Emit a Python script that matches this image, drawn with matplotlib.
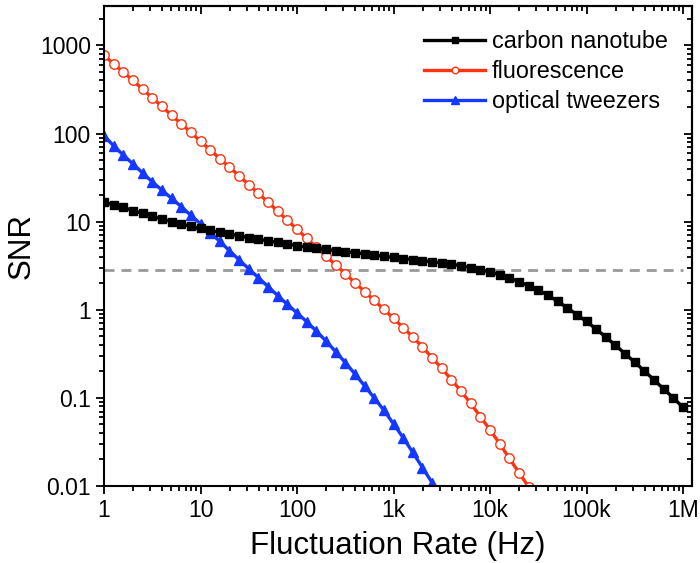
import numpy as np
import matplotlib
matplotlib.use("Agg")
import matplotlib.pyplot as plt
from matplotlib.ticker import FixedLocator, FixedFormatter, LogLocator, NullFormatter

plt.rcParams['font.family'] = ['Liberation Sans', 'DejaVu Sans']

# sampling grid: 10 points per decade, 1 Hz .. 1 MHz
freq = np.logspace(0, 6, 61)

# SNR, one value per marker
snr_cnt = [16.6, 15.5, 14.5, 13.3, 12.4, 11.5, 10.7, 10.0, 9.42, 8.85,
           8.39, 7.94, 7.57, 7.24, 6.92, 6.59, 6.31, 6.05, 5.82, 5.58,
           5.35, 5.14, 4.98, 4.83, 4.69, 4.56, 4.44, 4.31, 4.18, 4.04,
           3.92, 3.81, 3.71, 3.61, 3.51, 3.40, 3.28, 3.16, 3.01, 2.85,
           2.68, 2.49, 2.29, 2.09, 1.87, 1.67, 1.46, 1.25, 1.05, 0.883,
           0.736, 0.603, 0.489, 0.395, 0.317, 0.254, 0.202, 0.160, 0.126, 0.100,
           0.078]
snr_fluo = [769, 619, 498, 400, 319, 254, 203, 161, 129, 103,
            81.8, 65.2, 52.0, 41.4, 33.0, 26.3, 20.9, 16.6, 13.1, 10.4,
            8.17, 6.49, 5.13, 4.07, 3.24, 2.56, 2.03, 1.61, 1.28, 1.01,
            0.80, 0.627, 0.491, 0.378, 0.285, 0.216, 0.161, 0.119, 0.0865, 0.0614,
            0.0433, 0.0303, 0.0206, 0.0142, 0.00975]
snr_tweez = [94.4, 72.4, 56.9, 45.2, 35.7, 28.3, 22.8, 18.4, 14.8, 11.8,
             9.44, 7.53, 5.96, 4.68, 3.68, 2.92, 2.31, 1.83, 1.45, 1.15,
             0.920, 0.733, 0.573, 0.442, 0.335, 0.252, 0.187, 0.137, 0.100, 0.0724,
             0.0507, 0.0353, 0.0240, 0.0162, 0.0109, 0.0072]
threshold = 2.83

xticks = [1, 10, 100, 1e3, 1e4, 1e5, 1e6]
xticklabels = ["1", "10", "100", "1k", "10k", "100k", "1M"]
yticks = [0.01, 0.1, 1, 10, 100, 1000]
yticklabels = ["0.01", "0.1", "1", "10", "100", "1000"]

fig = plt.figure(figsize=(7, 5.63), dpi=100)
ax = fig.add_axes([0.1486, 0.1368, 0.84, 0.8525])

ax.plot([freq[0], freq[-1]], [threshold, threshold], color="#999999", lw=2,
        dashes=[3.6, 2.5], zorder=1)
ax.plot(freq, snr_cnt, color="black", lw=2.4, marker="s", ms=6.3,
        label="carbon nanotube", zorder=3)
ax.plot(freq[:len(snr_fluo)], snr_fluo, color="#ff3311", lw=2.4, marker="o", ms=6.8,
        mfc="white", mec="#ff3311", mew=1, label="fluorescence", zorder=2)
ax.plot(freq[:len(snr_tweez)], snr_tweez, color="#1438ff", lw=2.4, marker="^", ms=7.3,
        label="optical tweezers", zorder=2)

ax.set_xscale("log")
ax.set_yscale("log")
ax.set_xlim(1, 1.24e6)
ax.set_ylim(0.01, 2800)


def set_log_ticks(axis, ticks, labels):
    axis.set_major_locator(FixedLocator(ticks))
    axis.set_major_formatter(FixedFormatter(labels))
    axis.set_minor_locator(LogLocator(base=10, subs=np.arange(2, 10), numticks=20))
    axis.set_minor_formatter(NullFormatter())


set_log_ticks(ax.xaxis, xticks, xticklabels)
set_log_ticks(ax.yaxis, yticks, yticklabels)
ax.tick_params(which="both", direction="out", width=1.3, labelsize=16.5)
ax.tick_params(which="major", length=6)
ax.tick_params(which="minor", length=3.5)
for sp in ax.spines.values():
    sp.set_linewidth(1.5)

# mirrored ticks on top and right, pointing inwards
top = ax.secondary_xaxis("top")
set_log_ticks(top.xaxis, xticks, [""] * len(xticks))
right = ax.secondary_yaxis("right")
set_log_ticks(right.yaxis, yticks, [""] * len(yticks))
for sec in (top, right):
    sec.tick_params(which="both", direction="in", width=1.3)
    sec.tick_params(which="major", length=6)
    sec.tick_params(which="minor", length=3.5)
    for sp in sec.spines.values():
        sp.set_linewidth(1.5)

ax.set_xlabel("Fluctuation Rate (Hz)", fontsize=22.5, labelpad=6)
ax.set_ylabel("SNR", fontsize=22.5, labelpad=2)

ax.legend(loc="upper right", bbox_to_anchor=(0.975, 0.969), borderaxespad=0,
          frameon=False, fontsize=16.8, numpoints=1,
          handlelength=2.6, handletextpad=0.3, labelspacing=0.3,
          markerscale=0.7)

fig.savefig("out.png", dpi=100)
